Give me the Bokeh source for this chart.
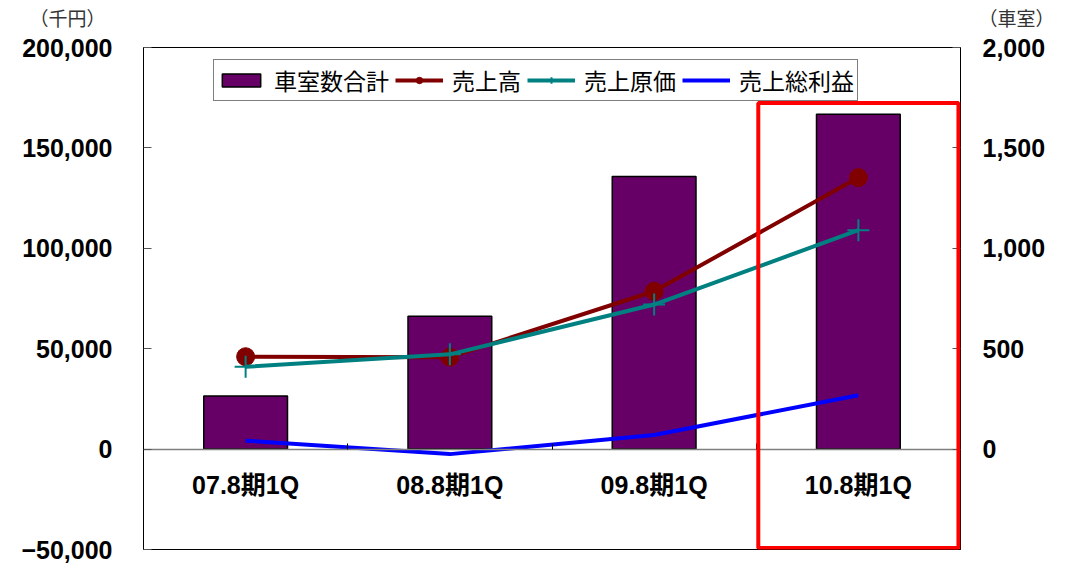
from bokeh.plotting import figure
from bokeh.layouts import column
from bokeh.models import (Range1d, LinearAxis, FixedTicker, NumeralTickFormatter,
                          BoxAnnotation)
from bokeh.core.properties import value
from bokeh.embed import file_html
from bokeh.resources import INLINE

categories = ["07.8期1Q", "08.8期1Q", "09.8期1Q", "10.8期1Q"]
rooms = [264, 662, 1358, 1667]            # 車室数合計 (right axis)
sales = [46000, 45800, 78600, 135200]     # 売上高
cost = [41000, 47200, 72000, 109000]      # 売上原価
gross = [4200, -2500, 7000, 26800]        # 売上総利益
left_ticks = [-50000, 0, 50000, 100000, 150000, 200000]
right_ticks = [0, 500, 1000, 1500, 2000]
unit_labels = ["（千円）", "（車室）"]
highlight_index = 3

NUM_FONT = "'Liberation Sans', 'Noto Sans CJK JP', sans-serif"
JP_FONT = "'Noto Sans CJK JP', 'Liberation Sans', sans-serif"
CAT_FONT = "'Liberation Sans', 'Noto Sans CJK JP', sans-serif"

W = 1068
HEAD_H = 32

x = list(range(1, len(categories) + 1))

# ---- header strip with the unit captions ----
head = figure(width=W, height=HEAD_H, x_range=Range1d(0, W), y_range=Range1d(0, HEAD_H),
              output_backend="svg", toolbar_location=None, min_border=0)
head.frame_align = False
head.axis.visible = False
head.grid.visible = False
head.outline_line_color = None
head.background_fill_color = "white"
head.border_fill_color = "white"
head.text(x=[67, 1016], y=[HEAD_H - 17, HEAD_H - 17], text=unit_labels,
          text_font=value(JP_FONT), text_font_size="19px", text_align="center",
          text_baseline="middle", text_color="#333333")

# ---- main chart ----
p = figure(width=W, height=563 - HEAD_H, x_range=Range1d(0.5, len(categories) + 0.5),
           y_range=Range1d(-50000, 200000), output_backend="svg", toolbar_location=None,
           min_border_left=143, min_border_right=108, min_border_top=47 - HEAD_H,
           min_border_bottom=14)
p.frame_align = False
p.extra_y_ranges = {"right": Range1d(-500, 2000)}

p.outline_line_color = "black"
p.outline_line_width = 1
p.xgrid.visible = False
p.ygrid.visible = False
p.background_fill_color = "white"
p.border_fill_color = "white"

# left axis
ya = p.yaxis[0]
ya.ticker = FixedTicker(ticks=left_ticks)
ya.formatter = NumeralTickFormatter(format="0,0")
ya.major_label_overrides = {-50000: "−50,000"}
ya.major_tick_in = 8
ya.major_tick_out = 0
ya.major_tick_line_color = "#555555"
ya.minor_tick_line_color = None
ya.axis_line_color = "black"
ya.major_label_standoff = 31
ya.major_label_text_font = NUM_FONT
ya.major_label_text_font_style = "bold"
ya.major_label_text_font_size = "25px"
ya.major_label_text_color = "black"

# right axis
ra = LinearAxis(y_range_name="right", ticker=FixedTicker(ticks=right_ticks),
                formatter=NumeralTickFormatter(format="0,0"))
ra.major_tick_in = 8
ra.major_tick_out = 0
ra.major_tick_line_color = "#555555"
ra.minor_tick_line_color = None
ra.axis_line_color = "black"
ra.major_label_standoff = 22
ra.major_label_text_font = NUM_FONT
ra.major_label_text_font_style = "bold"
ra.major_label_text_font_size = "25px"
ra.major_label_text_color = "black"
p.add_layout(ra, "right")

# x axis at zero
xa = p.xaxis[0]
xa.fixed_location = 0
xa.ticker = FixedTicker(ticks=x, minor_ticks=[v + 0.5 for v in x[:-1]])
xa.major_label_overrides = {v: c for v, c in zip(x, categories)}
xa.axis_line_color = "#808080"
xa.axis_line_width = 1.5
xa.major_tick_line_color = None
xa.minor_tick_in = 6
xa.minor_tick_out = 0
xa.minor_tick_line_color = "black"
xa.major_label_standoff = 16
xa.major_label_text_font = CAT_FONT
xa.major_label_text_font_style = "bold"
xa.major_label_text_font_size = "25px"
xa.major_label_text_color = "black"

# bars
p.vbar(x=x, top=rooms, width=0.41, y_range_name="right", fill_color="#660066",
       line_color="black", line_width=1.5, legend_label="車室数合計")

# lines
p.line(x, sales, line_color="#800000", line_width=4, legend_label="売上高")
p.scatter(x, sales, marker="circle", size=18, fill_color="#800000", line_color="#800000",
          legend_label="売上高")
p.line(x, cost, line_color="#008080", line_width=4, legend_label="売上原価")
p.scatter(x, cost, marker="cross", size=22, line_color="#008080", line_width=2,
          legend_label="売上原価")
p.line(x, gross, line_color="#0000FF", line_width=4, legend_label="売上総利益")

# highlight box
hx = x[highlight_index]
p.add_layout(BoxAnnotation(left=hx - 0.49, right=hx + 0.49, top=172300, bottom=-49300,
                           fill_color=None, fill_alpha=0, line_color="#FF0000",
                           line_alpha=1, line_width=4))

lg = p.legend[0]
lg.location = (70, 448)
lg.orientation = "horizontal"
lg.label_text_font = JP_FONT
lg.label_text_font_size = "23px"
lg.label_text_color = "black"
lg.border_line_color = "black"
lg.border_line_width = 1
lg.background_fill_alpha = 1
lg.padding = 3
lg.spacing = 6
lg.margin = 0
lg.label_standoff = 9
lg.glyph_width = 48
lg.glyph_height = 16
lg.label_height = 23

layout = column(head, p, spacing=0)
open("out.html", "w").write(file_html(layout, INLINE))
